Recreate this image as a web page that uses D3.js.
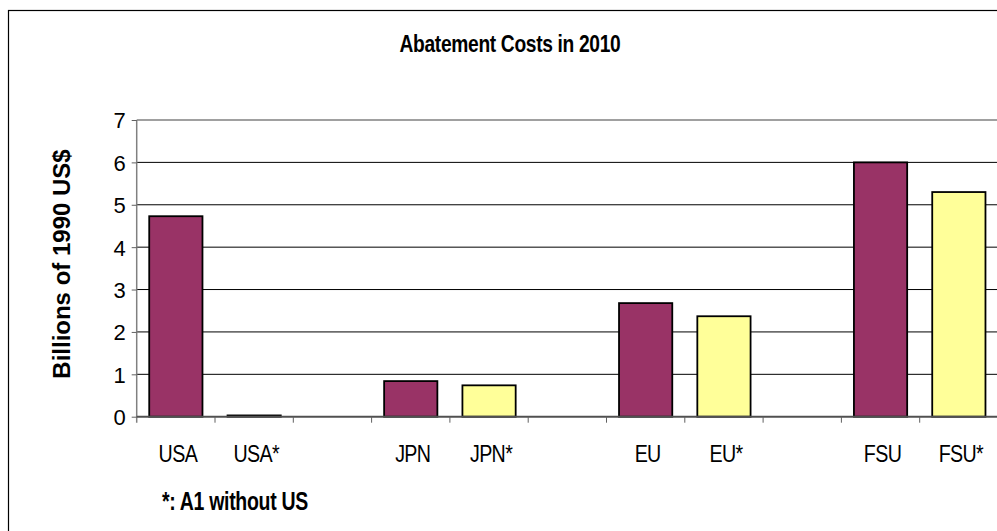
<!DOCTYPE html>
<html>
<head>
<meta charset="utf-8">
<script src="https://cdn.jsdelivr.net/npm/d3@7"></script>
<style>
  body { margin: 0; background: #fff; }
  svg { display: block; font-family: Arial, "Liberation Sans", sans-serif; }
</style>
</head>
<body>
<svg width="997" height="531"></svg>
<script>
// the data
var categories = ['USA', 'USA*', '', 'JPN', 'JPN*', '', 'EU', 'EU*', '', 'FSU', 'FSU*'];
var costs = [4.73, 0.03, null, 0.84, 0.74, null, 2.68, 2.37, null, 6.0, 5.3];
var isStarred = [false, true, false, false, true, false, false, true, false, false, true];
var yTicks = [0, 1, 2, 3, 4, 5, 6, 7];

var svg = d3.select('svg'),
  width = +svg.attr('width'),
  height = +svg.attr('height');

var margin = { left: 136.7, top: 120, right: 998, bottom: 416.7 };

var x = d3.scaleBand()
  .domain(d3.range(categories.length))
  .range([margin.left, 998])
  .paddingInner(0.32)
  .paddingOuter(0.16);

var y = d3.scaleLinear().domain([0, 7]).range([margin.bottom, margin.top]);

// text in the original looks squeezed sideways, so scale x only
function squeezed(sel, px, py, sx) {
  return sel.attr('transform', 'translate(' + px + ',' + py + ') scale(' + sx + ',1)');
}

// outer chart frame (runs off the picture on right and bottom)
svg.append('rect')
  .attr('x', 8.5)
  .attr('y', 10.5)
  .attr('width', 1100)
  .attr('height', 600)
  .attr('fill', 'none')
  .attr('stroke', '#000')
  .attr('stroke-width', 1.2);

// title
svg.append('text')
  .call(squeezed, 510, 51.5, 0.8)
  .attr('text-anchor', 'middle')
  .style('font-size', '24px')
  .style('font-weight', 'bold')
  .style('letter-spacing', '-0.4px')
  .text('Abatement Costs in 2010');

// gridlines
svg.append('g')
  .selectAll('line')
  .data(yTicks.filter(function (d) { return d > 0 && d < 7; }))
  .enter()
  .append('line')
  .attr('x1', margin.left)
  .attr('x2', 1000)
  .attr('y1', function (d) { return y(d); })
  .attr('y2', function (d) { return y(d); })
  .attr('stroke', '#000')
  .attr('stroke-width', 1);

// top plot border
svg.append('line')
  .attr('x1', margin.left)
  .attr('x2', 1000)
  .attr('y1', y(7))
  .attr('y2', y(7))
  .attr('stroke', '#808080')
  .attr('stroke-width', 1.5);

// bars
svg.append('g')
  .selectAll('rect')
  .data(costs.map(function (v, i) { return { i: i, v: v }; }).filter(function (d) { return d.v != null; }))
  .enter()
  .append('rect')
  .attr('x', function (d) { return x(d.i); })
  .attr('y', function (d) { return y(d.v); })
  .attr('width', x.bandwidth())
  .attr('height', function (d) { return y(0) - y(d.v); })
  .attr('fill', function (d) { return isStarred[d.i] ? '#ffff99' : '#993366'; })
  .attr('stroke', '#000')
  .attr('stroke-width', 1.8);

// y axis
var yAxis = svg.append('g')
  .attr('transform', 'translate(' + margin.left + ',0)')
  .call(d3.axisLeft(y).tickValues(yTicks).tickSize(5).tickPadding(6).tickFormat(d3.format('d')));
yAxis.select('.domain')
  .attr('d', 'M0,' + y(7) + 'V' + (y(0) + 6))
  .attr('stroke', '#808080')
  .attr('stroke-width', 1.5);
yAxis.selectAll('.tick line').attr('stroke', '#606060');
yAxis.selectAll('.tick text')
  .attr('fill', '#000')
  .attr('dy', '0.36em')
  .style('font-size', '22px')
  .style('font-family', 'Arial, "Liberation Sans", sans-serif');

// x axis: ticks at band boundaries, labels centred in bands
var step = x.step();
var xg = svg.append('g');
xg.append('line')
  .attr('x1', margin.left)
  .attr('x2', 1000)
  .attr('y1', y(0))
  .attr('y2', y(0))
  .attr('stroke', '#505050')
  .attr('stroke-width', 2);
xg.selectAll('line.tick')
  .data(d3.range(1, categories.length))
  .enter()
  .append('line')
  .attr('class', 'tick')
  .attr('x1', function (i) { return x(i) - x.paddingInner() * step / 2; })
  .attr('x2', function (i) { return x(i) - x.paddingInner() * step / 2; })
  .attr('y1', y(0))
  .attr('y2', y(0) + 6)
  .attr('stroke', '#606060')
  .attr('stroke-width', 1);
xg.selectAll('text')
  .data(categories)
  .enter()
  .append('text')
  .each(function (d, i) {
    squeezed(d3.select(this), x(i) + x.bandwidth() / 2 + 2, 461.5, 0.82);
  })
  .attr('text-anchor', 'middle')
  .style('font-size', '24px')
  .style('letter-spacing', '-0.8px')
  .text(function (d) { return d; });

// y axis title
svg.append('text')
  .attr('transform', 'translate(70,264) rotate(-90)')
  .attr('text-anchor', 'middle')
  .style('font-size', '24px')
  .style('font-weight', 'bold')
  .text('Billions of 1990 US$');

// footnote
svg.append('text')
  .call(squeezed, 162, 509.5, 0.78)
  .style('font-size', '25px')
  .style('font-weight', 'bold')
  .style('letter-spacing', '-0.4px')
  .text('*: A1 without US');
</script>
</body>
</html>
